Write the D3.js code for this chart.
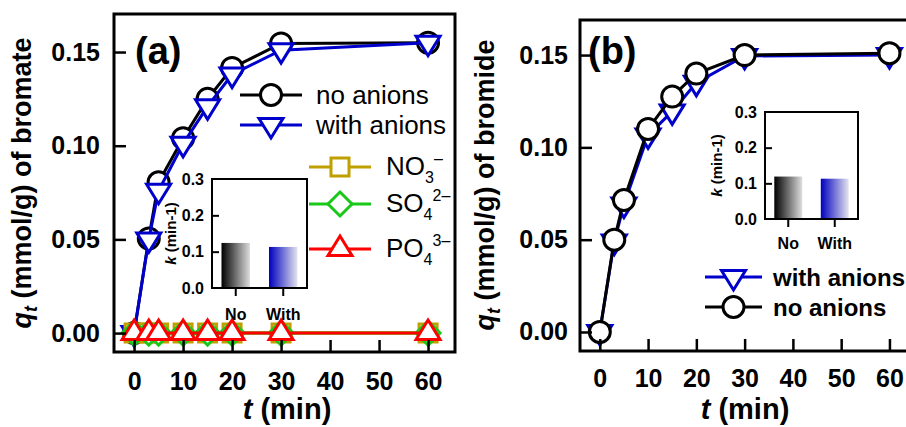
<!DOCTYPE html>
<html>
<head>
<meta charset="utf-8">
<script src="https://cdn.jsdelivr.net/npm/d3@7"></script>
<style>
body { margin: 0; background: #fff; }
text { font-family: "Liberation Sans", Arial, sans-serif; }
</style>
</head>
<body>
<svg id="chart" width="906" height="427"></svg>
<script>
// sampling times (min)
var times = [0, 3, 5, 10, 15, 20, 30, 60];

// (a) bromate uptake q_t (mmol/g)
var bromateNoAnions   = [0, 0.0505, 0.0805, 0.104, 0.125, 0.1415, 0.1546, 0.155];
var bromateWithAnions = [0, 0.050, 0.076, 0.101, 0.121, 0.138, 0.151, 0.155];
var bromateNO3 = [0, 0, 0, 0, 0, 0, 0, 0];
var bromateSO4 = [0, 0, 0, 0, 0, 0, 0, 0];
var bromatePO4 = [0, 0, 0, 0, 0, 0, 0, 0];

// (b) bromide uptake q_t (mmol/g)
var bromideNoAnions   = [0, 0.050, 0.0715, 0.110, 0.1275, 0.140, 0.150, 0.151];
var bromideWithAnions = [0, 0.049, 0.069, 0.1065, 0.1195, 0.135, 0.1495, 0.150];

// insets: rate constant k (min-1)
var kCategories = ["No", "With"];
var kBromate = [0.124, 0.113];
var kBromide = [0.119, 0.113];

var timeTicks = [0, 10, 20, 30, 40, 50, 60];
var qTicks = [0, 0.05, 0.10, 0.15];
var kTicks = [0, 0.1, 0.2, 0.3];

var BLACK = "#000000", BLUE = "#0000cc", GOLD = "#c0a000", GREEN = "#19c819", RED = "#ff0000";

var svg = d3.select("#chart");

var defs = svg.append("defs");
function gradient(id, c0, c1) {
    var g = defs.append("linearGradient").attr("id", id)
        .attr("x1", "0%").attr("x2", "100%").attr("y1", "0%").attr("y2", "0%");
    g.append("stop").attr("offset", "0%").attr("stop-color", c0);
    g.append("stop").attr("offset", "100%").attr("stop-color", c1);
}
gradient("gradNo", "#000000", "#dedede");
gradient("gradWith", "#0000c0", "#e4e4ee");
var barFills = ["url(#gradNo)", "url(#gradWith)"];

function markerPath(type) {
    if (type == "down") return "M-12,-6.5L12,-6.5L0,13Z";
    if (type == "up") return "M0,-13L12,6.5L-12,6.5Z";
    if (type == "square") return "M-9,-9H9V9H-9Z";
    if (type == "diamond") return "M0,-12L12,0L0,12L-12,0Z";
}

function marker(sel, type, color) {
    var m;
    if (type == "circle") m = sel.append("circle").attr("r", 10.5);
    else m = sel.append("path").attr("d", markerPath(type));
    m.attr("fill", "#fff").attr("stroke", color).attr("stroke-width", 3)
        .attr("stroke-linejoin", "miter");
}

function drawSeries(g, x, y, values, type, color) {
    var pts = times.map(function(t, i) { return [t, values[i]]; });
    var line = d3.line()
        .x(function(d) { return x(d[0]); })
        .y(function(d) { return y(d[1]); });
    g.append("path").datum(pts)
        .attr("d", line)
        .attr("fill", "none")
        .attr("stroke", color)
        .attr("stroke-width", 3);
    g.selectAll(null).data(pts).enter().append("g")
        .attr("transform", function(d) { return "translate(" + x(d[0]) + "," + y(d[1]) + ")"; })
        .each(function() { marker(d3.select(this), type, color); });
}

function styleAxis(ax, size, width) {
    ax.select(".domain").remove();
    ax.selectAll("line").attr("stroke", "#000").attr("stroke-width", width);
    ax.selectAll("text").attr("fill", "#000")
        .style("font-size", size + "px").style("font-weight", "bold");
}

function drawInset(g, box, values) {
    var xb = d3.scaleBand().domain(kCategories)
        .range([box.x0, box.x1]).paddingInner(0.4).paddingOuter(0.2);
    var yk = d3.scaleLinear().domain([0, 0.3]).range([box.y1, box.y0]);

    g.selectAll(null).data(values).enter().append("rect")
        .attr("x", function(d, i) { return xb(kCategories[i]); })
        .attr("width", xb.bandwidth())
        .attr("y", function(d) { return yk(d); })
        .attr("height", function(d) { return yk(0) - yk(d); })
        .attr("fill", function(d, i) { return barFills[i]; });

    var ya = g.append("g").attr("transform", "translate(" + box.x0 + ",0)")
        .call(d3.axisLeft(yk).tickValues(kTicks).tickFormat(d3.format(".1f"))
            .tickSizeInner(-7).tickSizeOuter(0).tickPadding(8));
    styleAxis(ya, 16, 2);
    ya.selectAll(".tick line").filter(function(d) { return d == 0 || d == 0.3; }).remove();

    var xa = g.append("g").attr("transform", "translate(0," + box.y1 + ")")
        .call(d3.axisBottom(xb).tickSizeInner(8).tickSizeOuter(0).tickPadding(box.pad));
    styleAxis(xa, 16, 2);

    g.append("rect")
        .attr("x", box.x0).attr("y", box.y0)
        .attr("width", box.x1 - box.x0).attr("height", box.y1 - box.y0)
        .attr("fill", "none").attr("stroke", "#000").attr("stroke-width", 2);

    var lab = g.append("text")
        .attr("transform", "translate(" + box.labX + "," + ((box.y0 + box.y1) / 2) + ") rotate(-90)")
        .attr("text-anchor", "middle")
        .style("font-size", "15px").style("font-weight", "bold");
    lab.append("tspan").style("font-style", "italic").text("k");
    lab.append("tspan").text(" (min-1)");
}

function drawPanel(p) {
    var g = svg.append("g");
    var x = d3.scaleLinear().domain([-4.1, 65.5]).range([p.left, p.right]);
    var y = d3.scaleLinear().domain(p.yDomain).range([p.bottom, p.top]);

    p.series.forEach(function(s) { drawSeries(g, x, y, s.values, s.type, s.color); });

    var xa = g.append("g").attr("transform", "translate(0," + p.bottom + ")")
        .call(d3.axisBottom(x).tickValues(timeTicks)
            .tickSizeInner(-12).tickSizeOuter(0).tickPadding(p.xPad));
    styleAxis(xa, 25, 2.5);

    var ya = g.append("g").attr("transform", "translate(" + p.left + ",0)")
        .call(d3.axisLeft(y).tickValues(qTicks).tickFormat(d3.format(".2f"))
            .tickSizeInner(-12).tickSizeOuter(0).tickPadding(p.yPad));
    styleAxis(ya, 25, 2.5);

    g.append("rect")
        .attr("x", p.left).attr("y", p.top)
        .attr("width", p.right - p.left).attr("height", p.bottom - p.top)
        .attr("fill", "none").attr("stroke", "#000").attr("stroke-width", 3);

    // axis titles
    var yl = g.append("text")
        .attr("transform", "translate(" + p.yLabX + "," + p.yLabY + ") rotate(-90)")
        .attr("text-anchor", "middle")
        .style("font-size", "27px").style("font-weight", "bold");
    yl.append("tspan").style("font-style", "italic").text("q");
    yl.append("tspan").style("font-style", "italic").style("font-size", "18px").attr("dy", 6).text("t");
    yl.append("tspan").attr("dy", -6).text(" (mmol/g) of " + p.ion);

    var xl = g.append("text")
        .attr("x", p.xLabX).attr("y", 419)
        .attr("text-anchor", "middle")
        .style("font-size", "29px").style("font-weight", "bold");
    xl.append("tspan").style("font-style", "italic").text("t");
    xl.append("tspan").text(" (min)");

    g.append("text").attr("x", p.tagX).attr("y", 64)
        .style("font-size", "38px").style("font-weight", "bold")
        .text(p.tag);

    drawInset(g, p.inset, p.k);
    return g;
}

function legendRow(g, x0, x1, y, type, color) {
    g.append("line").attr("x1", x0).attr("x2", x1).attr("y1", y).attr("y2", y)
        .attr("stroke", color).attr("stroke-width", 3);
    var m = g.append("g").attr("transform", "translate(" + ((x0 + x1) / 2) + "," + y + ")");
    marker(m, type, color);
}

// panel (a)
var ga = drawPanel({
    left: 114, right: 455, top: 14, bottom: 352,
    yDomain: [-0.0101, 0.1703],
    xPad: 20, yPad: 14,
    yLabX: 31, yLabY: 183, xLabX: 287,
    tagX: 135, tag: "(a)", ion: "bromate",
    series: [
        { values: bromateNoAnions, type: "circle", color: BLACK },
        { values: bromateWithAnions, type: "down", color: BLUE },
        { values: bromateNO3, type: "square", color: GOLD },
        { values: bromateSO4, type: "diamond", color: GREEN },
        { values: bromatePO4, type: "up", color: RED }
    ],
    k: kBromate,
    inset: { x0: 212, x1: 307, y0: 179, y1: 288, pad: 13, labX: 176 }
});

legendRow(ga, 240, 302, 95, "circle", BLACK);
legendRow(ga, 240, 302, 125, "down", BLUE);
ga.append("text").attr("x", 316).attr("y", 104).style("font-size", "26px").text("no anions");
ga.append("text").attr("x", 316).attr("y", 134).style("font-size", "26px").text("with anions");

var ions = [
    { main: "NO", sub: "3", sup: "\u2013", type: "square", color: GOLD, y: 167 },
    { main: "SO", sub: "4", sup: "2\u2013", type: "diamond", color: GREEN, y: 204 },
    { main: "PO", sub: "4", sup: "3\u2013", type: "up", color: RED, y: 249 }
];
ions.forEach(function(r) {
    legendRow(ga, 309, 371, r.y, r.type, r.color);
    var t = ga.append("text").attr("x", 386).attr("y", r.y + 8).style("font-size", "26px");
    t.append("tspan").text(r.main);
    t.append("tspan").attr("dy", 8).style("font-size", "16px").text(r.sub);
    t.append("tspan").attr("dy", -19).style("font-size", "16px").text(r.sup);
});

// panel (b)
var gb = drawPanel({
    left: 580, right: 916, top: 20, bottom: 351,
    yDomain: [-0.0103, 0.169],
    xPad: 18, yPad: 12,
    yLabX: 494, yLabY: 185, xLabX: 745,
    tagX: 588, tag: "(b)", ion: "bromide",
    series: [
        { values: bromideWithAnions, type: "down", color: BLUE },
        { values: bromideNoAnions, type: "circle", color: BLACK }
    ],
    k: kBromide,
    inset: { x0: 765, x1: 858, y0: 112, y1: 219, pad: 11, labX: 722 }
});

legendRow(gb, 705, 762, 277, "down", BLUE);
legendRow(gb, 705, 762, 307, "circle", BLACK);
gb.append("text").attr("x", 773).attr("y", 286)
    .style("font-size", "24px").style("font-weight", "bold").text("with anions");
gb.append("text").attr("x", 773).attr("y", 316)
    .style("font-size", "24px").style("font-weight", "bold").text("no anions");
</script>
</body>
</html>
